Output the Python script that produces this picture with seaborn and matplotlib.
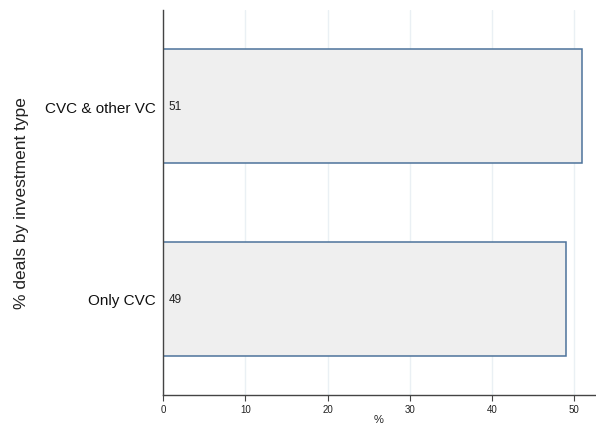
import matplotlib
matplotlib.use("Agg")
import matplotlib.pyplot as plt
import seaborn as sns
import pandas as pd

categories = ["CVC & other VC", "Only CVC"]
values = [51, 49]
xticks = [0, 10, 20, 30, 40, 50]

sns.set_theme(style="white")
plt.rcParams['font.family'] = ['Liberation Sans', 'DejaVu Sans']

df = pd.DataFrame({"type": categories, "pct": values})

fig = plt.figure(figsize=(5.96, 4.27), dpi=100)
ax = fig.add_axes([0.2735, 0.0726, 0.7245, 0.9016])

sns.barplot(data=df, x="pct", y="type", order=categories, orient="h",
            color="#efefef", edgecolor="#4d739b", linewidth=1.1,
            width=0.59, saturation=1, ax=ax, zorder=2)

ax.set_xlim(0, 52.5)
ax.set_ylim(1.5, -0.5)
ax.set_xticks(xticks)
ax.set_xticklabels([str(t) for t in xticks], fontsize=7, color="#222222")
ax.tick_params(axis="x", length=4, width=0.8, color="#444444", pad=2.5, direction="out", bottom=True)
ax.tick_params(axis="y", length=0, pad=5, labelsize=11, labelcolor="#111111")
ax.xaxis.grid(True, color="#eaf0f4", linewidth=1.0, zorder=0)
ax.yaxis.grid(False)
ax.set_axisbelow(True)

for s in ["top", "right"]:
    ax.spines[s].set_visible(False)
for s in ["left", "bottom"]:
    ax.spines[s].set_color("#444444")
    ax.spines[s].set_linewidth(1.0)

ax.set_xlabel("%", fontsize=8, labelpad=0, color="#222222")
ax.set_ylabel("% deals by investment type", fontsize=12.5, labelpad=12, color="#222222")

for i, v in enumerate(values):
    ax.text(0.65, i, str(v), va="center", ha="left", fontsize=8.5, color="#222222", zorder=3)

fig.savefig("out.png", dpi=100)
